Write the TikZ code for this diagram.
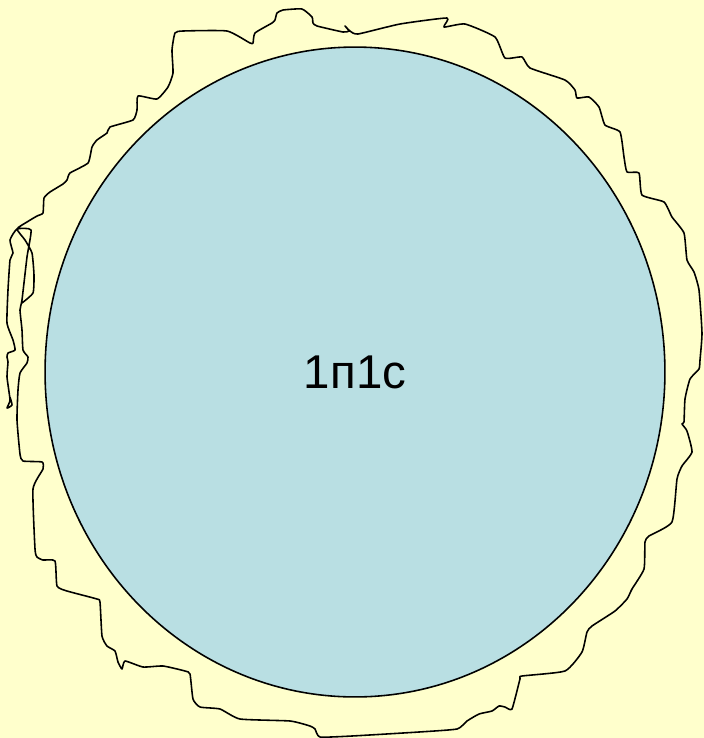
\documentclass[tikz,border=0pt]{standalone}
\usepackage{fontspec}
\setmainfont{Liberation Sans}
\usepackage{tikz}
\usetikzlibrary{shapes.geometric}

\definecolor{paper}{RGB}{255,255,204}
\definecolor{cellblue}{RGB}{185,223,227}

\begin{document}
\begin{tikzpicture}[
  x=0.02cm, y=-0.02cm,
  cellbody/.style={draw,ellipse,fill=cellblue,line width=0.9pt,inner sep=0pt,
    minimum width=12.4cm,minimum height=13cm,font=\fontsize{27}{32}\selectfont},
  outline/.style={draw,line width=0.9pt,line join=round}
]
\fill[paper] (0,0) rectangle (704,738);
\useasboundingbox (0,0) rectangle (704,738);
\node[cellbody] (cell) at (355,372) {1п1с};
% rough outline round the cell
\draw[outline] plot[smooth,tension=0.3] coordinates {
  (10,397) (12,405) (7,408) (10,400) (7,377) (8,362) (7,357) (8,353) (15,350)
  (13,340) (7,323) (8,290) (10,260) (13,253) (10,240) (17,229) (31,230)
  (27,257) (22,300) (20,310) (22,330) (23,350) (28,357) (27,363) (20,373)
  (18,390) (17,420) (20,454) (23,461) (42,462) (43,469) (33,489) (35,549)
  (37,557) (43,560) (55,561) (57,586) (67,591) (97,599) (100,602) (102,636)
  (107,646) (115,651) (118,662) (122,669) (125,661) (143,667) (163,666)
  (185,671) (190,674) (193,699) (200,707) (220,709) (240,719) (290,721)
  (310,726) (315,729) (320,737) (352,736) (419,732) (457,729) (467,721)
  (479,714) (492,711) (499,706) (505,707) (512,709) (520,679) (522,676)
  (565,671) (582,652) (587,632) (592,626) (615,611) (627,599) (632,589)
  (644,569) (645,542) (649,536) (672,522) (677,479) (682,466) (692,452)
  (687,431) (682,424) (684,422) (685,399) (690,379) (699,369) (700,360)
  (702,333) (699,290) (694,272) (687,260) (684,233) (672,217) (664,202)
  (642,195) (639,173) (627,172) (624,157) (620,132) (605,125) (599,107)
  (589,97) (577,98) (575,90) (565,80) (530,68) (522,57) (505,58) (495,37)
  (465,24) (444,27) (447,18) (400,24) (358,34) (350,31) (345,26) (349,31)
  (343,32) (317,26) (313,23) (312,17) (302,9) (283,10) (277,13) (275,20)
  (272,23) (255,33) (253,43) (250,43) (227,31) (183,31) (175,33) (172,50)
  (173,73) (168,87) (157,99) (138,96) (137,110) (133,120) (110,127)
  (107,133) (97,140) (92,147) (88,163) (70,173) (67,180) (63,184) (50,192)
  (44,198) (43,213) (37,216) (27,222) (17,229) (25,240) (32,253) (34,275)
  (33,293) (22,303)};
\end{tikzpicture}
\end{document}
